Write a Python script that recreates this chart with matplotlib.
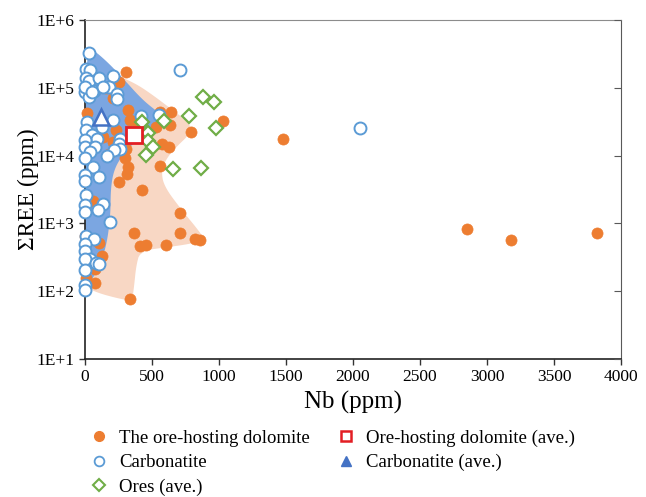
import numpy as np
import matplotlib.pyplot as plt
from matplotlib.lines import Line2D

plt.rcParams['font.family'] = ['Liberation Serif', 'DejaVu Serif']

# The ore-hosting dolomite
dol_nb = [305, 257, 157, 207, 17, 324, 332, 644, 1028, 791, 631, 531, 574, 624, 307,
          299, 324, 317, 556, 137, 182, 32, 232, 129, 399, 254, 424, 62, 711, 367,
          711, 412, 457, 604, 823, 861, 107, 125, 75, 5, 75, 332, 0, 556, 25,
          212, 1480, 2850, 3180, 3820]
dol_ree = [171000, 122000, 97700, 69800, 42600, 47100, 33000, 43500, 32200, 22200,
           28400, 26300, 15000, 13400, 12700, 9070, 6860, 5290, 7030, 18800,
           10700, 12700, 23500, 26300, 26300, 4010, 3130, 2170, 1430, 729,
           715, 467, 482, 487, 596, 570, 511, 333, 213, 157,
           133, 77, 653, 43500, 16800, 15900, 17700, 830, 578, 731]

# Carbonatite
carb_nb = [30, 5, 37, 5, 32, 107, 207, 182, 237, 67, 2, 32, 419, 549, 212,
           17, 125, 7, 50, 88, 2, 262, 257, 262, 217, 167, 2, 75, 37, 2,
           62, 2, 107, 0, 7, 2, 132, 100, 0, 187, 7, 67, 0, 0, 37,
           0, 82, 107, 0, 0, 0, 137, 237, 0, 50, 711, 2050]
carb_ree = [327000, 187000, 183000, 141000, 126000, 141000, 150000, 104000, 80700, 90300,
            85300, 72100, 38100, 39800, 33000, 31100, 26300, 23600, 19900, 17800,
            16800, 17800, 15000, 12700, 12000, 9940, 13400, 13400, 11400, 9070,
            6860, 5190, 4910, 4250, 2590, 1890, 1930, 1600, 1480, 1050,
            653, 583, 493, 394, 298, 298, 257, 252, 206, 122,
            103, 101000, 68200, 101000, 85300, 180000, 25500]

# Ores (ave.)
ore_nb = [881, 962, 778, 981, 427, 586, 468, 468, 504, 457, 656, 868]
ore_ree = [73500, 61000, 38100, 25500, 31100, 31900, 21200, 16400, 13200, 10300, 6400, 6540]

# averages
dol_ave_nb, dol_ave_ree = [367], [19900]
carb_ave_nb, carb_ave_ree = [117], [36800]

# field outlines
carb_field_nb = [0, 80, 182, 292, 427, 539, 609, 529, 402, 297, 222, 192, 190, 160, 108, 55, 0]
carb_field_ree = [430000, 340000, 225000, 132000, 67000, 44500, 34400, 26000, 18000, 11200,
                  6700, 3510, 1280, 467, 238, 150, 118]
dol_field_nb = [150, 262, 389, 509, 636, 734, 791, 783, 681, 606, 569, 591, 711, 851, 893,
                786, 636, 412, 382, 367, 352, 262, 112, 22, 0, 0]
dol_field_ree = [205000, 146000, 112000, 77300, 49900, 35600, 27200, 20800, 13400, 8970,
                 5790, 3510, 1670, 773, 570, 499, 451, 394, 238, 122,
                 72, 77, 92, 110, 122, 205000]


def smooth(xs, ys, n=3):
    # chaikin corner cutting, done in (x, log y)
    pts = np.column_stack([xs, np.log10(ys)]).astype(float)
    for _ in range(n):
        nxt = np.roll(pts, -1, axis=0)
        q = 0.75 * pts + 0.25 * nxt
        r = 0.25 * pts + 0.75 * nxt
        pts = np.empty((2 * len(q), 2))
        pts[0::2] = q
        pts[1::2] = r
    return pts[:, 0], 10 ** pts[:, 1]


fig = plt.figure(figsize=(6.46, 4.97), dpi=100)
ax = fig.add_axes([0.1316, 0.2777, 0.8297, 0.6821])

fx, fy = smooth(dol_field_nb, dol_field_ree)
ax.fill(fx, fy, color='#F8D7C4', lw=0, zorder=1)
fx, fy = smooth(carb_field_nb, carb_field_ree)
ax.fill(fx, fy, color='#7BA6E1', lw=0, zorder=2)

ax.plot(dol_nb, dol_ree, 'o', ms=8, mfc='#ED7D31', mec='#ED7D31', mew=0.5,
        ls='none', zorder=3, clip_on=False)
ax.plot(carb_nb, carb_ree, 'o', ms=8.6, mfc='white', mec='#5B9BD5', mew=1.4,
        ls='none', zorder=4, clip_on=False)
ax.plot(ore_nb, ore_ree, 'D', ms=7, mfc='white', mec='#70AD47', mew=1.6,
        ls='none', zorder=5)
ax.plot(carb_ave_nb, carb_ave_ree, '^', ms=11, mfc='white', mec='#4472C4', mew=1.8,
        ls='none', zorder=6)
ax.plot(dol_ave_nb, dol_ave_ree, 's', ms=11, mfc='white', mec='#E31E24', mew=2,
        ls='none', zorder=6)

ax.set_xlim(0, 4000)
ax.set_yscale('log')
ax.set_ylim(10, 1e6)
decades = [10, 100, 1000, 1e4, 1e5, 1e6]
ax.set_yticks(decades)
ax.set_yticklabels(['1E+1', '1E+2', '1E+3', '1E+4', '1E+5', '1E+6'])
ax.minorticks_off()
ax.set_xticks(range(0, 4001, 500))
ax.tick_params(labelsize=12.5, length=4, width=1, direction='out', color='#333333')

ax.spines['top'].set_color('#8c8c8c')
ax.spines['right'].set_color('#595959')
ax.spines['left'].set_color('#222222')
ax.spines['bottom'].set_color('#222222')
ax.spines['left'].set_linewidth(1.2)
ax.spines['bottom'].set_linewidth(1.2)

ax2 = ax.twinx()
ax2.set_yscale('log')
ax2.set_ylim(10, 1e6)
ax2.set_yticks(decades)
ax2.minorticks_off()
ax2.tick_params(direction='in', length=5, labelright=False, color='#595959')
for s in ax2.spines.values():
    s.set_visible(False)

ax.set_xlabel('Nb (ppm)', fontsize=18, labelpad=4)
ax.set_ylabel('ΣREE (ppm)', fontsize=17, labelpad=-2)

handles = [
    Line2D([], [], marker='o', ls='none', ms=7, mfc='#ED7D31', mec='#ED7D31'),
    Line2D([], [], marker='o', ls='none', ms=7, mfc='white', mec='#5B9BD5', mew=1.3),
    Line2D([], [], marker='D', ls='none', ms=6, mfc='white', mec='#70AD47', mew=1.5),
    Line2D([], [], marker='s', ls='none', ms=7, mfc='white', mec='#E31E24', mew=1.8),
    Line2D([], [], marker='^', ls='none', ms=7, mfc='#4472C4', mec='#4472C4'),
]
labels = ['The ore-hosting dolomite', 'Carbonatite', 'Ores (ave.)',
          'Ore-hosting dolomite (ave.)', 'Carbonatite (ave.)']
fig.legend(handles, labels, loc='upper left', bbox_to_anchor=(0.112, 0.17),
           ncol=2, frameon=False, fontsize=13.5,
           handlelength=1.0, handletextpad=0.6, columnspacing=1.4, labelspacing=0.39)

fig.savefig('out.png', dpi=100)
